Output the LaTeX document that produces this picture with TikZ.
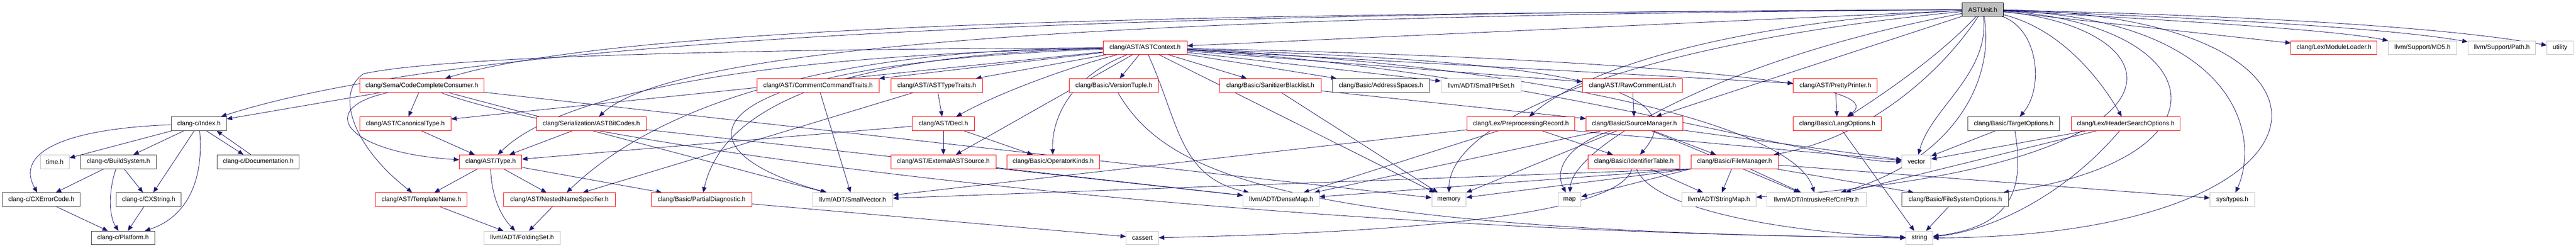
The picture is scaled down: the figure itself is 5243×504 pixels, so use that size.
\documentclass[tikz,border=0pt]{standalone}
\usepackage{fontspec}
\setmainfont{Liberation Sans}
\usetikzlibrary{arrows.meta}
\definecolor{edgeblue}{HTML}{191970}
\definecolor{boxgray}{HTML}{BFBFBF}
\definecolor{boxred}{HTML}{FF0000}
\definecolor{boxblack}{HTML}{404040}
\pgfdeclarelayer{bg}
\pgfdeclarelayer{edges}
\pgfsetlayers{bg,edges,main}
\begin{document}
\begin{tikzpicture}[x=1pt,y=-1pt,
  box/.style={rectangle, draw, fill=white, line width=1pt, minimum height=28pt, inner sep=0pt, font=\fontsize{13}{15}\selectfont, text=black},
  redbox/.style={box, draw=boxred},
  graybox/.style={box, draw=boxgray},
  blackbox/.style={box, draw=boxblack},
  e/.style={draw=edgeblue, line width=0.9pt, -{Triangle[length=11pt,width=9pt]}}]
\begin{pgfonlayer}{bg}
\fill[white] (0,0) rectangle (5243,504);
\end{pgfonlayer}
\useasboundingbox (0,0) rectangle (5243,504);
% row 0
\node[box, draw=black, fill=boxgray, minimum width=83pt, minimum height=27pt] (au) at (4035.5,19.5) {ASTUnit.h};
% row 1
\node[redbox, minimum width=171pt] (ac) at (2330.5,97) {clang/AST/ASTContext.h};
\node[redbox, minimum width=175pt] (modload) at (4750.5,97) {clang/Lex/ModuleLoader.h};
\node[graybox, minimum width=139pt] (md5) at (4930.5,97) {llvm/Support/MD5.h};
\node[graybox, minimum width=138pt] (path) at (5092,97) {llvm/Support/Path.h};
\node[graybox, minimum width=53pt] (utility) at (5210.5,97) {utility};
% row 2
\node[redbox, minimum width=253pt] (ccc) at (858.5,174) {clang/Sema/CodeCompleteConsumer.h};
\node[redbox, minimum width=248pt] (cct) at (1665,174) {clang/AST/CommentCommandTraits.h};
\node[redbox, minimum width=187pt] (att) at (1906.5,174) {clang/AST/ASTTypeTraits.h};
\node[redbox, minimum width=182pt] (vt) at (2267,174) {clang/Basic/VersionTuple.h};
\node[redbox, minimum width=207pt] (sbl) at (2585.5,174) {clang/Basic/SanitizerBlacklist.h};
\node[blackbox, minimum width=197pt] (as) at (2810.5,174) {clang/Basic/AddressSpaces.h};
\node[graybox, minimum width=163pt] (sps) at (3014.5,174) {llvm/ADT/SmallPtrSet.h};
\node[redbox, minimum width=203pt] (rcl) at (3322.5,174) {clang/AST/RawCommentList.h};
\node[redbox, minimum width=171pt] (pp) at (3735.5,174) {clang/AST/PrettyPrinter.h};
% row 3
\node[blackbox, minimum width=112pt] (index) at (405,251.5) {clang-c/Index.h};
\node[redbox, minimum width=186pt] (canon) at (825,251.5) {clang/AST/CanonicalType.h};
\node[redbox, minimum width=223pt] (abc) at (1203.5,251.5) {clang/Serialization/ASTBitCodes.h};
\node[redbox, minimum width=126pt] (decl) at (1920,251.5) {clang/AST/Decl.h};
\node[redbox, minimum width=219pt] (prec) at (3095.5,251.5) {clang/Lex/PreprocessingRecord.h};
\node[redbox, minimum width=197pt] (sm) at (3326.5,251.5) {clang/Basic/SourceManager.h};
\node[redbox, minimum width=179pt] (lo) at (3739.5,251.5) {clang/Basic/LangOptions.h};
\node[blackbox, minimum width=187pt] (to) at (4098.5,251.5) {clang/Basic/TargetOptions.h};
\node[redbox, minimum width=221pt] (hso) at (4326.5,251.5) {clang/Lex/HeaderSearchOptions.h};
% row 4
\node[graybox, minimum width=59pt] (time) at (111.5,329) {time.h};
\node[blackbox, minimum width=154pt] (bs) at (241,329) {clang-c/BuildSystem.h};
\node[blackbox, minimum width=167pt] (doc) at (525.5,329) {clang-c/Documentation.h};
\node[redbox, minimum width=127pt] (type) at (998.5,329) {clang/AST/Type.h};
\node[redbox, minimum width=214pt] (eas) at (1920,329) {clang/AST/ExternalASTSource.h};
\node[redbox, minimum width=189pt] (ok) at (2143.5,329) {clang/Basic/OperatorKinds.h};
\node[redbox, minimum width=187pt] (it) at (3325.5,329) {clang/Basic/IdentifierTable.h};
\node[redbox, minimum width=177pt] (fm) at (3530.5,329) {clang/Basic/FileManager.h};
\node[graybox, minimum width=59pt] (vector) at (3900.5,329) {vector};
% row 5
\node[blackbox, minimum width=158pt] (cxerr) at (84,406) {clang-c/CXErrorCode.h};
\node[blackbox, minimum width=133pt] (cxstr) at (302.5,406) {clang-c/CXString.h};
\node[redbox, minimum width=187pt] (tn) at (857.5,406) {clang/AST/TemplateName.h};
\node[redbox, minimum width=227pt] (nns) at (1138.5,406) {clang/AST/NestedNameSpecifier.h};
\node[redbox, minimum width=204pt] (pd) at (1428,406) {clang/Basic/PartialDiagnostic.h};
\node[graybox, minimum width=163pt] (sv) at (1735.5,406) {llvm/ADT/SmallVector.h};
\node[graybox, minimum width=155pt] (dm) at (2607.5,406) {llvm/ADT/DenseMap.h};
\node[graybox, minimum width=70pt] (mem) at (2949,406) {memory};
\node[graybox, minimum width=47pt] (map) at (3194.5,406) {map};
\node[graybox, minimum width=151pt] (smap) at (3498.5,406) {llvm/ADT/StringMap.h};
\node[graybox, minimum width=202pt] (irc) at (3697,406) {llvm/ADT/IntrusiveRefCntPtr.h};
\node[blackbox, minimum width=217pt] (fso) at (3979.5,406) {clang/Basic/FileSystemOptions.h};
\node[graybox, minimum width=91pt] (systypes) at (4543.5,406) {sys/types.h};
% row 6
\node[blackbox, minimum width=129pt] (platform) at (250.5,484) {clang-c/Platform.h};
\node[graybox, minimum width=155pt] (fs) at (1062.5,484) {llvm/ADT/FoldingSet.h};
\node[graybox, minimum width=66pt] (cassert) at (2325,484) {cassert};
\node[graybox, minimum width=55pt] (string) at (3906.5,484) {string};

\begin{pgfonlayer}{edges}
% ---- left cluster
\draw[e] (index) .. controls (130,262) and (30,310) .. (cxerr);
\draw[e] (index) -- (time);
\draw[e] (index) -- (bs);
\draw[e] (index) -- (cxstr);
\draw[e] (index) .. controls (415,360) and (385,440) .. (platform);
\draw[e] ([xshift=15pt]index.south) -- ([xshift=-30pt]doc.north);
\draw[e] ([xshift=-15pt]doc.north) -- ([xshift=36pt]index.south);
\draw[e] (bs) -- (cxerr);
\draw[e] (bs) .. controls (220,390) and (222,440) .. (platform);
\draw[e] (bs) -- (cxstr);
\draw[e] (cxerr) -- (platform);
\draw[e] (cxstr) -- (platform);
% ---- CodeCompleteConsumer
\draw[e] (ccc) -- (index);
\draw[e] (ccc) -- (canon);
\draw[e] (ccc) .. controls (640,220) and (700,310) .. (type);
\draw[e] (ccc) -- (sv);
\draw[e] (ccc) -- (mem);
\draw[e] (ccc) .. controls (1200,300) and (2500,470) .. (string);
% ---- AST types
\draw[e] (canon) -- (type);
\draw[e] (abc) -- (type);
\draw[e] (abc) -- (dm);
\draw[e] (type) -- (tn);
\draw[e] (type) -- (nns);
\draw[e] (type) .. controls (1000,400) and (1020,440) .. (fs);
\draw[e] (type) -- (pd);
\draw[e] (tn) -- (fs);
\draw[e] (nns) -- (fs);
\draw[e] (cct) -- (sv);
\draw[e] (att) -- (decl);
\draw[e] (att) -- (nns);
\draw[e] (decl) -- (type);
\draw[e] (decl) -- (eas);
\draw[e] (decl) -- (ok);
\draw[e] (eas) -- (dm);
\draw[e] (pd) -- (cassert);
\draw[e] (vt) .. controls (2370,350) and (2600,470) .. (string);
\draw[e] (sbl) -- (mem);
\draw[e] (sbl) -- (sm);
\draw[e] (rcl) -- (sm);
\draw[e] (pp) -- (lo);
% ---- Lex / Basic
\draw[e] (prec) -- (it);
\draw[e] (prec) -- (dm);
\draw[e] (prec) -- (sv);
\draw[e] (prec.south east) -- (vector);
\draw[e] (sm) -- (fm);
\draw[e] (sm) -- (dm);
\draw[e] (sm) .. controls (3200,290) and (3160,340) .. (map);
\draw[e] (sm) -- (mem);
\draw[e] (sm) -- (irc);
\draw[e] (sm) -- (vector);
\draw[e] (it) -- (smap);
\draw[e] (it) .. controls (3300,420) and (3000,470) .. (cassert);
\draw[e] (it) .. controls (3360,420) and (3600,470) .. (string);
\draw[e] (fm) -- (fso);
\draw[e] (fm) -- (systypes);
\draw[e] (fm.south west) -- (dm);
\draw[e] (fm.south west) -- (sv);
\draw[e] (fm.south west) -- (mem);
\draw[e] (fm.south west) -- (map);
\draw[e] (fm) -- (smap);
\draw[e] (fm) -- (irc);
\draw[e] (lo) -- (string);
\draw[e] (to) -- (vector);
\draw[e] (to) .. controls (4120,380) and (4100,460) .. (string);
\draw[e] (hso) -- (vector);
\draw[e] (hso) -- (irc);
\draw[e] (hso) .. controls (4200,400) and (4050,470) .. (string);
\draw[e] (fso) -- (string);
% ---- ASTContext
\draw[e] (ac) -- (canon);
\draw[e] (ac) .. controls (1600,110) and (1150,180) .. (type);
\draw[e] (ac) .. controls (1500,100) and (900,115) .. (740,150) .. controls (680,190) and (720,300) .. (tn);
\draw[e] (ac) .. controls (1600,100) and (1300,250) .. (nns);
\draw[e] (ac) .. controls (1700,110) and (1470,220) .. (pd);
\draw[e] (ac) -- (cct);
\draw[e] (ac) -- (att);
\draw[e] (ac) .. controls (2200,130) and (2050,180) .. (decl);
\draw[e] (ac) -- (eas);
\draw[e] (ac) .. controls (2170,160) and (2140,250) .. (ok);
\draw[e] (ac) -- (vt);
\draw[e] (ac) -- (sbl);
\draw[e] (ac) -- (as);
\draw[e] (ac) -- (sps);
\draw[e] (ac) -- (rcl);
\draw[e] (ac) -- (pp);
\draw[e] (ac) .. controls (3000,110) and (3880,150) .. (lo);
\draw[e] (ac) .. controls (3000,120) and (3480,150) .. (it);
\draw[e] (ac) .. controls (2400,250) and (2400,360) .. (dm);
\draw[e] (ac) -- (mem);
\draw[e] (ac) .. controls (1400,130) and (1350,300) .. (sv);
\draw[e] (ac) .. controls (3100,140) and (3700,330) .. (vector);
\draw[e] (ac) .. controls (3100,130) and (3650,250) .. (irc);
% ---- ASTUnit
\draw[e] (au) -- (ac);
\draw[e] (au) .. controls (2500,25) and (1000,60) .. (index);
\draw[e] (au) .. controls (2600,28) and (1300,40) .. (ccc);
\draw[e] (au) .. controls (2600,30) and (1400,70) .. (abc);
\draw[e] (au) .. controls (3600,40) and (3250,120) .. (prec);
\draw[e] (au) -- (sm);
\draw[e] (au) .. controls (3950,150) and (3800,280) .. (fm);
\draw[e] (au) .. controls (3950,110) and (3850,180) .. (lo);
\draw[e] (au) .. controls (4150,60) and (4160,180) .. (to);
\draw[e] (au) .. controls (4200,60) and (4280,170) .. (hso);
\draw[e] (au) -- (modload);
\draw[e] (au) .. controls (4400,40) and (4750,60) .. (md5);
\draw[e] (au) .. controls (4450,35) and (4850,55) .. (path);
\draw[e] (au) .. controls (4500,30) and (4950,50) .. (utility);
\draw[e] (au) .. controls (4050,150) and (3930,220) .. (vector);
\draw[e] (au) .. controls (4850,30) and (4800,480) .. (string);
\draw[e] (au) .. controls (4560,40) and (4600,280) .. (systypes);
\draw[e] (au) .. controls (4500,50) and (4560,320) .. (fso);
\draw[e] (au) .. controls (4450,60) and (4500,340) .. (smap);
\draw[e] (au) .. controls (4060,150) and (3990,320) .. (irc);
\draw[e] (au) .. controls (3300,90) and (2950,250) .. (mem);
\draw[e] (au) .. controls (3500,120) and (3200,300) .. (map);
\end{pgfonlayer}
\end{tikzpicture}
\end{document}
